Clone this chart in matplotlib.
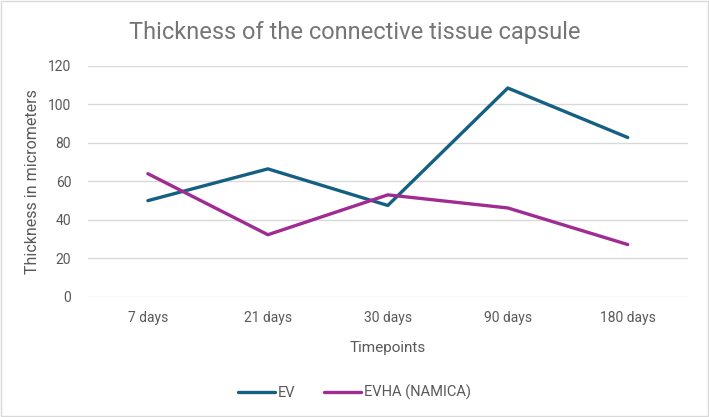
import matplotlib.pyplot as plt

# data
timepoints = ['7 days', '21 days', '30 days', '90 days', '180 days']
ev = [50, 66.5, 47.5, 108.5, 82.8]
evha = [64, 32.3, 53, 46.2, 27.2]

plt.rcParams['font.family'] = ['Roboto', 'DejaVu Sans']

fig = plt.figure(figsize=(7.09, 4.17), dpi=100)
ax = fig.add_axes([0.124, 0.288, 0.846, 0.554])

x = range(len(timepoints))
ax.plot(x, ev, color='#156082', lw=2.4, label='EV', solid_capstyle='round')
ax.plot(x, evha, color='#A02B93', lw=2.4, label='EVHA (NAMICA)', solid_capstyle='round')

ax.set_xlim(-0.5, len(timepoints) - 0.5)
ax.set_ylim(0, 120)
ax.set_yticks(range(0, 121, 20))
ax.set_xticks(list(x))
ax.set_xticklabels(timepoints)
ax.grid(axis='y', color='#D9D9D9', lw=1)
ax.set_axisbelow(True)
for s in ax.spines.values():
    s.set_visible(False)
ax.tick_params(axis='x', length=0, labelsize=10, colors='#595959', pad=10)
ax.tick_params(axis='y', length=0, labelsize=10, colors='#595959', pad=12)

ax.set_xlabel('Timepoints', fontsize=11, color='#595959', labelpad=12)
ax.set_ylabel('Thickness in micrometers', fontsize=11.5, color='#595959', labelpad=6)
fig.text(0.5, 0.922, 'Thickness of the connective tissue capsule', ha='center', va='center',
         fontsize=17, color='#757575')

fig.legend(loc='center', bbox_to_anchor=(0.5, 0.058), ncol=2, frameon=False,
           fontsize=10.5, labelcolor='#595959', handlelength=2.5, handletextpad=0.2,
           columnspacing=2.0)

fig.patches.append(plt.Rectangle((0.002, 0.003), 0.996, 0.994, transform=fig.transFigure,
                                 fill=False, edgecolor='#D9D9D9', lw=1))

fig.savefig('out.png', dpi=100)
